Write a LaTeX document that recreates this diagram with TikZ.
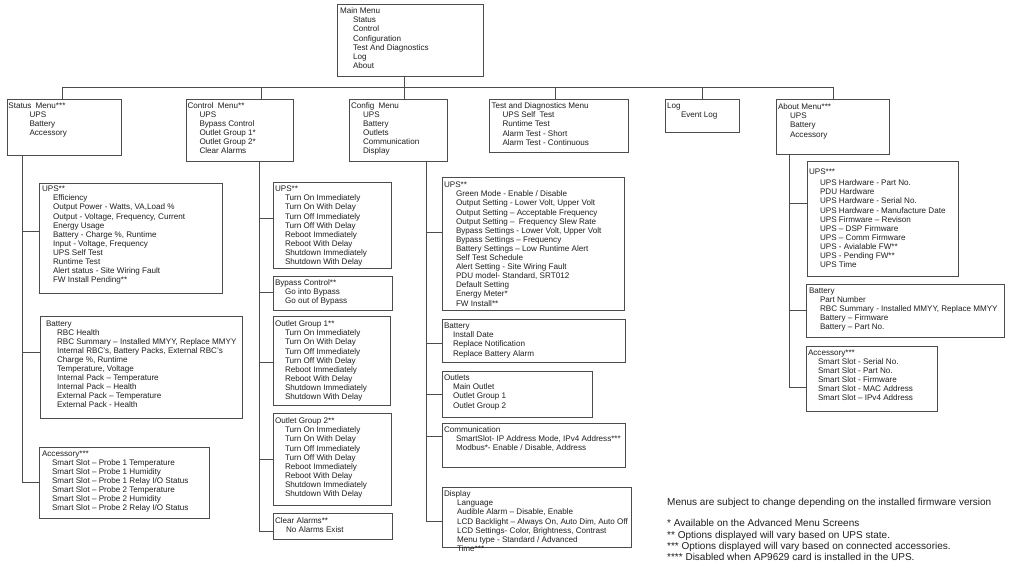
\documentclass[tikz,border=0pt]{standalone}
\usepackage{fontspec}
\setmainfont{Liberation Sans}
\usetikzlibrary{calc}
\tikzset{
  bx/.style={draw=black!70, line width=0.7pt, inner sep=0pt, outer sep=0pt, text=black!88,
    font=\fontsize{8.1}{9.1}\selectfont},
  conn/.style={draw=black!70, line width=0.7pt},
  foot/.style={inner sep=0pt, text=black!88, font=\fontsize{10}{11.1}\selectfont}
}
% name, left, top, right, bottom, pad, indent, offset, content
\newcommand\mbx[9]{%
  \node[bx,anchor=north west] (#1) at (#2,#3) {\parbox[c][\dimexpr#5pt-#3pt\relax][t]{\dimexpr#4pt-#2pt\relax}{%
    \setlength\parindent{0pt}\setlength\parskip{0pt}\setlength\leftskip{#6pt}%
    \setlength\rightskip{-200pt plus 1fil}\def\ii{\par\hspace*{#7pt}}%
    \rule{0pt}{\dimexpr#8pt+2.7pt\relax}#9}};%
}
\begin{document}
\begin{tikzpicture}[x=1pt,y=-1pt]
\useasboundingbox[fill=white] (0,0) rectangle (1024,571);

% top level
\mbx{main}{337}{4.5}{483}{76}{3}{13}{6.5}{Main Menu\ii Status\ii Control\ii Configuration\ii Test And Diagnostics\ii Log\ii About}
\mbx{stat}{7}{99}{121}{155}{1.5}{21}{6.7}{Status\hspace{2pt} Menu***\ii UPS\ii Battery\ii Accessory}
\mbx{ctrl}{186}{99}{293}{161}{1.5}{12}{6.7}{Control\hspace{2pt} Menu**\ii UPS\ii Bypass Control\ii Outlet Group 1*\ii Outlet Group 2*\ii Clear Alarms}
\mbx{conf}{349}{99}{447}{161}{2}{12}{6.7}{Config\hspace{2pt} Menu\ii UPS\ii Battery\ii Outlets\ii Communication\ii Display}
\mbx{test}{489}{99}{628}{152}{2.5}{11}{7}{Test and Diagnostics Menu\ii UPS Self\hspace{2pt} Test\ii Runtime Test\ii Alarm Test - Short\ii Alarm Test - Continuous}
\mbx{log}{665}{99}{739}{132}{2}{14}{7}{Log\ii Event Log}
\mbx{about}{776}{99}{889}{154}{2}{12}{8}{About Menu***\ii UPS\ii Battery\ii Accessory}

% status column
\mbx{sups}{39}{183}{222}{293}{3}{11}{6}{UPS**\ii Efficiency\ii Output Power - Watts, VA,Load \%\ii Output - Voltage, Frequency, Current\ii Energy Usage\ii Battery - Charge \%, Runtime\ii Input - Voltage, Frequency\ii UPS Self Test\ii Runtime Test\ii Alert status - Site Wiring Fault\ii FW Install Pending**}
\mbx{sbat}{40}{316}{242}{418}{6}{11}{7.3}{Battery\ii RBC Health\ii RBC Summary – Installed MMYY, Replace MMYY\ii Internal RBC's, Battery Packs, External RBC's\ii Charge \%, Runtime\ii Temperature, Voltage\ii Internal Pack – Temperature\ii Internal Pack – Health\ii External Pack – Temperature\ii External Pack - Health}
\mbx{sacc}{39}{447}{209}{518}{3}{10}{6.3}{Accessory***\ii Smart Slot – Probe 1 Temperature\ii Smart Slot – Probe 1 Humidity\ii Smart Slot – Probe 1 Relay I/O Status\ii Smart Slot – Probe 2 Temperature\ii Smart Slot – Probe 2 Humidity\ii Smart Slot – Probe 2 Relay I/O Status}

% control column
\mbx{cups}{273}{182}{391}{268}{2}{10}{7}{UPS**\ii Turn On Immediately\ii Turn On With Delay\ii Turn Off Immediately\ii Turn Off With Delay\ii Reboot Immediately\ii Reboot With Delay\ii Shutdown Immediately\ii Shutdown With Delay}
\mbx{cbyp}{273}{276}{392}{310}{2}{10}{6.7}{Bypass Control**\ii Go into Bypass\ii Go out of Bypass}
\mbx{cog1}{273}{316}{390}{405}{2}{10}{8}{Outlet Group 1**\ii Turn On Immediately\ii Turn On With Delay\ii Turn Off Immediately\ii Turn Off With Delay\ii Reboot Immediately\ii Reboot With Delay\ii Shutdown Immediately\ii Shutdown With Delay}
\mbx{cog2}{273}{413}{391}{505}{2}{10}{8}{Outlet Group 2**\ii Turn On Immediately\ii Turn On With Delay\ii Turn Off Immediately\ii Turn Off With Delay\ii Reboot Immediately\ii Reboot With Delay\ii Shutdown Immediately\ii Shutdown With Delay}
\mbx{cclr}{273}{513}{392}{539}{2}{11}{8}{Clear Alarms**\ii No Alarms Exist}

% config column
\mbx{fups}{442}{177}{624}{310}{2}{12}{8}{UPS**\ii Green Mode - Enable / Disable\ii Output Setting - Lower Volt, Upper Volt\ii Output Setting – Acceptable Frequency\ii Output Setting –\hspace{2pt} Frequency Slew Rate\ii Bypass Settings - Lower Volt, Upper Volt\ii Bypass Settings – Frequency\ii Battery Settings – Low Runtime Alert\ii Self Test Schedule\ii Alert Setting - Site Wiring Fault\ii PDU model- Standard, SRT012\ii Default Setting\ii Energy Meter*\ii FW Install**}
\mbx{fbat}{442}{319}{625}{362}{2}{9}{7}{Battery\ii Install Date\ii Replace Notification\ii Replace Battery Alarm}
\mbx{fout}{442}{371}{592}{417}{2}{9}{7}{Outlets\ii Main Outlet\ii Outlet Group 1\ii Outlet Group 2}
\mbx{fcom}{442}{423}{625}{467}{2}{12}{7}{Communication\ii SmartSlot- IP Address Mode, IPv4 Address***\ii Modbus*- Enable / Disable, Address}
\mbx{fdis}{442}{487}{631}{547}{2}{13}{7}{Display\ii Language\ii Audible Alarm – Disable, Enable\ii LCD Backlight – Always On, Auto Dim, Auto Off\ii LCD Settings- Color, Brightness, Contrast\ii Menu type - Standard / Advanced\ii Time***}

% about column
\mbx{aups}{807}{161}{958}{276}{2}{11}{11}{UPS***\par\vspace{1.9pt}\hspace*{11pt}UPS Hardware - Part No.\ii PDU Hardware\ii UPS Hardware - Serial No.\ii UPS Hardware - Manufacture Date\ii UPS Firmware – Revison\ii UPS – DSP Firmware\ii UPS – Comm Firmware\ii UPS - Avialable FW**\ii UPS - Pending FW**\ii UPS Time}
\mbx{abat}{806}{284}{1004}{337}{3}{11}{6.7}{Battery\ii Part Number\ii RBC Summary - Installed MMYY, Replace MMYY\ii Battery – Firmware\ii Battery – Part No.}
\mbx{aacc}{806}{346}{937}{411}{2}{10}{6.7}{Accessory***\ii Smart Slot - Serial No.\ii Smart Slot - Part No.\ii Smart Slot - Firmware\ii Smart Slot - MAC Address\ii Smart Slot – IPv4 Address}

% bus
\coordinate (busL) at (62,87);
\coordinate (busR) at (833,87);
\coordinate (tM) at (404,87);
\coordinate (tC) at (261,87);
\coordinate (tF) at (404,87);
\coordinate (tT) at (555,87);
\draw[conn] (busL) -- (busR);
\draw[conn] (main.south -| tM) -- (tM);
\draw[conn] (stat.north -| busL) -- (busL);
\draw[conn] (ctrl.north -| tC) -- (tC);
\draw[conn] (conf.north -| tF) -- (tF);
\draw[conn] (test.north -| tT) -- (tT);
\draw[conn] (log.north) -- (log.north |- busL);
\draw[conn] (about.north -| busR) -- (busR);

% column lines
\coordinate (cS) at (22,0);
\coordinate (cC) at (259,0);
\coordinate (cF) at (426,0);
\coordinate (cA) at (789,0);
\draw[conn] (stat.south -| cS) |- ([yshift=7pt]sups.west);
\draw[conn] (stat.south -| cS) |- ([yshift=15pt]sbat.west);
\draw[conn] (stat.south -| cS) |- (sacc.west);

\draw[conn] (ctrl.south -| cC) |- ([yshift=7pt]cups.west);
\draw[conn] (ctrl.south -| cC) |- ([yshift=1pt]cbyp.west);
\draw[conn] (ctrl.south -| cC) |- ([yshift=-1.5pt]cog1.west);
\draw[conn] (ctrl.south -| cC) |- (cog2.west);
\draw[conn] (ctrl.south -| cC) |- ([yshift=-5pt]cclr.west);

\draw[conn] (conf.south -| cF) |- ([yshift=11.5pt]fups.west);
\draw[conn] (conf.south -| cF) |- ([yshift=-2.5pt]fbat.west);
\draw[conn] (conf.south -| cF) |- (fout.west);
\draw[conn] (conf.south -| cF) |- ([yshift=9pt]fcom.west);
\draw[conn] (conf.south -| cF) |- ([yshift=-4pt]fdis.west);

\draw[conn] (about.south -| cA) |- ([yshift=15.5pt]aups.west);
\draw[conn] (about.south -| cA) |- (abat.west);
\draw[conn] (about.south -| cA) |- ([yshift=-8.5pt]aacc.west);

% footnotes
\node[foot,anchor=base west] (fn0) at (667,505.2) {Menus are subject to change depending on the installed firmware version};
\node[foot,anchor=base west] (fn1) at (667,526.8) {* Available on the Advanced Menu Screens};
\node[foot,anchor=base west] (fn2) at (667,538.4) {** Options displayed will vary based on UPS state.};
\node[foot,anchor=base west] (fn3) at (667,549.5) {*** Options displayed will vary based on connected accessories.};
\node[foot,anchor=base west] (fn4) at (667,560.2) {**** Disabled when AP9629 card is installed in the UPS.};
\end{tikzpicture}
\end{document}
